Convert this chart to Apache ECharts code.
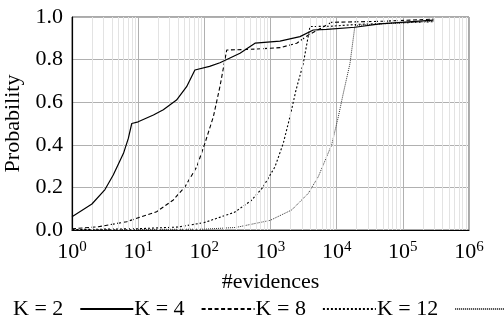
<!DOCTYPE html>
<html>
<head>
<meta charset="utf-8">
<script src="https://cdn.jsdelivr.net/npm/echarts@6/dist/echarts.min.js"></script>
<style>
  html, body { margin: 0; padding: 0; background: #fff; }
  #chart { width: 504px; height: 330px; }
</style>
</head>
<body>
<div id="chart"></div>
<script>
// values, [#evidences, probability]
const k2Data = [
  [1, 0.062], [2, 0.122], [3.15, 0.19], [4.2, 0.258], [6, 0.36], [7.1, 0.43], [8, 0.5],
  [10, 0.508], [17, 0.54], [24, 0.565], [38, 0.61], [54, 0.673], [72, 0.751],
  [120, 0.768], [172, 0.785], [346, 0.83], [583, 0.877], [1390, 0.887], [2790, 0.908],
  [4430, 0.939], [7060, 0.942], [18900, 0.952], [45000, 0.968], [290000, 0.985]
];
const k4Data = [
  [1, 0.006], [2.5, 0.015], [6.7, 0.039], [19, 0.086], [34, 0.141], [51, 0.203],
  [77, 0.297], [102, 0.407], [137, 0.532], [172, 0.673], [218, 0.845], [480, 0.848],
  [1390, 0.856], [2490, 0.877], [3720, 0.915], [8400, 0.975], [50000, 0.98], [290000, 0.99]
];
const k8Data = [
  [1, 0.002], [10, 0.006], [40, 0.014], [100, 0.035], [285, 0.083], [510, 0.138],
  [765, 0.2], [1170, 0.297], [1560, 0.407], [1970, 0.532], [2430, 0.657], [3130, 0.782],
  [3950, 0.955], [8400, 0.957], [20000, 0.965], [290000, 0.978]
];
const k12Data = [
  [1, 0.001], [100, 0.004], [300, 0.012], [983, 0.045], [2090, 0.094], [3720, 0.172],
  [5270, 0.25], [8400, 0.4], [10600, 0.532], [12600, 0.642], [15900, 0.782],
  [18900, 0.96], [50000, 0.968], [290000, 0.98]
];
const seriesNames = ['K = 2', 'K = 4', 'K = 8', 'K = 12'];

const FONT = 'Liberation Serif';

// light minor grid lines at 2..9 x 10^k
const minorX = [];
for (let k = 0; k < 6; k++) {
  for (let m = 2; m <= 9; m++) minorX.push({ xAxis: m * Math.pow(10, k) });
}

const chart = echarts.init(document.getElementById('chart'));
const option = {
  animation: false,
  grid: {
    left: 72,
    right: 35,
    top: 17,
    bottom: 100,
    outerBoundsMode: 'none',
    containLabel: false,
    show: true,
    borderColor: '#555',
    borderWidth: 1,
  },
  legend: {
    left: 8,
    top: 293,
    width: 700,
    align: 'right',
    itemGap: 0,
    itemWidth: 53,
    itemHeight: 20,
    itemStyle: { opacity: 0 },
    formatter: (name) => '{t|' + name + '}',
    textStyle: {
      fontFamily: FONT,
      fontSize: 22,
      color: '#000',
      rich: {
        t: { fontFamily: FONT, fontSize: 22, color: '#000', padding: [0, 12, 0, 0] },
      },
    },
    data: seriesNames,
  },
  xAxis: {
    type: 'log',
    logBase: 10,
    min: 1,
    max: 1000000,
    name: '#evidences',
    nameLocation: 'middle',
    nameGap: 41,
    nameTextStyle: { fontFamily: FONT, fontSize: 22, color: '#000' },
    axisLine: { lineStyle: { color: '#000', width: 1.2 } },
    axisTick: { show: false },
    splitLine: { show: true, lineStyle: { color: '#b0b0b0', width: 1 } },
    axisLabel: {
      margin: 10,
      formatter: (v) => '{a|10}{b|' + Math.round(Math.log10(v)) + '}',
      rich: {
        a: { fontFamily: FONT, fontSize: 22, color: '#000' },
        b: { fontFamily: FONT, fontSize: 15, color: '#000', padding: [0, 0, 10, 0] },
      },
    },
  },
  yAxis: {
    type: 'value',
    min: 0,
    max: 1,
    interval: 0.2,
    name: 'Probability',
    nameLocation: 'middle',
    nameGap: 40,
    nameTextStyle: { fontFamily: FONT, fontSize: 22, color: '#000' },
    axisLine: { show: true, lineStyle: { color: '#000', width: 1.2 } },
    axisTick: { show: false },
    splitLine: { show: true, lineStyle: { color: '#b0b0b0', width: 1 } },
    axisLabel: {
      margin: 9,
      fontFamily: FONT,
      fontSize: 22,
      color: '#000',
      formatter: (v) => v.toFixed(1),
    },
  },
  series: [
    {
      name: 'minor',
      type: 'line',
      data: [],
      z: 1,
      silent: true,
      markLine: {
        silent: true,
        symbol: ['none', 'none'],
        label: { show: false },
        lineStyle: { color: '#e3e3e3', type: 'solid', width: 1 },
        data: minorX,
      },
    },
    {
      name: seriesNames[0],
      type: 'line',
      data: k2Data,
      symbol: 'none',
      z: 5,
      lineStyle: { color: '#000', width: 1.2, type: 'solid' },
      itemStyle: { color: '#000' },
    },
    {
      name: seriesNames[1],
      type: 'line',
      data: k4Data,
      symbol: 'none',
      z: 4,
      lineStyle: { color: '#000', width: 1.1, type: [4, 2.5] },
      itemStyle: { color: '#000' },
    },
    {
      name: seriesNames[2],
      type: 'line',
      data: k8Data,
      symbol: 'none',
      z: 3,
      lineStyle: { color: '#000', width: 1.1, type: [2, 2] },
      itemStyle: { color: '#000' },
    },
    {
      name: seriesNames[3],
      type: 'line',
      data: k12Data,
      symbol: 'none',
      z: 3,
      lineStyle: { color: '#333', width: 1, type: [1, 1] },
      itemStyle: { color: '#333' },
    },
  ],
};
chart.setOption(option);
</script>
</body>
</html>
